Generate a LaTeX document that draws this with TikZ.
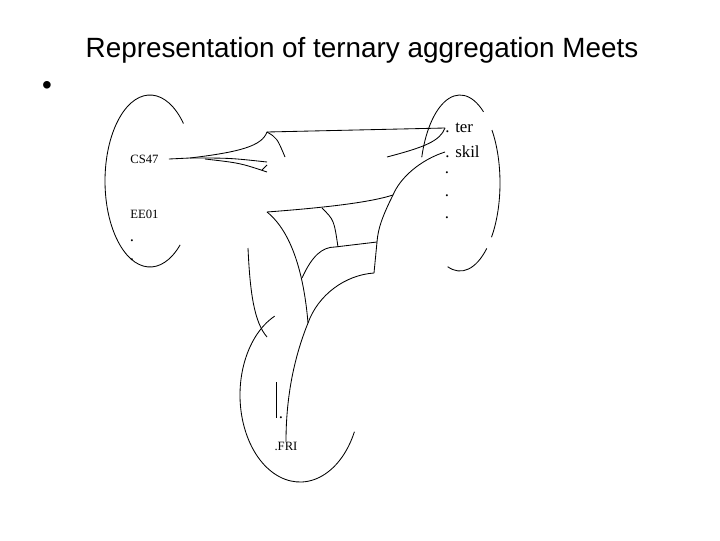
\documentclass[tikz,border=0pt]{standalone}
\usepackage{fontspec}
\setmainfont{Liberation Sans}
\newfontfamily\lblfont{Liberation Serif}
\usetikzlibrary{positioning}

\begin{document}
\begin{tikzpicture}[x=0.025cm, y=-0.025cm, line width=0.6pt,
  lbl/.style={font=\lblfont\fontsize{9}{10}\selectfont, inner sep=0pt},
  tag/.style={font=\lblfont\fontsize{12}{13}\selectfont, inner sep=0pt, anchor=west},
  dotmark/.style={font=\lblfont\fontsize{12}{13}\selectfont, inner sep=0pt}]
  \useasboundingbox (0,0) rectangle (720,540);
  \node[font=\fontsize{19.8}{24}\selectfont, anchor=base] (title) at (362,57) {Representation of ternary aggregation Meets};
  \node[font=\fontsize{19.8}{24}\selectfont] (bullet) at (47,88) {•};

  \node[lbl, anchor=west] (cs47) at (130,159) {CS47};
  \node[lbl, anchor=west] (ee01) at (130,214) {EE01};
  \node[dotmark] (ldot1) at (132,241) {.};
  \node[dotmark] (ldot2) at (132,260) {.};
  \node[tag] (ter) at (445,128) {. ter};
  \node[tag] (skil) at (445,152) {. skil};
  \foreach \y in {173,196,218}
    \node[dotmark] (rdot\y) at (447,\y) {.};
  \node[lbl] (fri) at (286,446) {.FRI};
  \node[dotmark] (fridot) at (281,418) {.};

  \draw (150,181) ++(-42:45 and 86) arc[start angle=-42, end angle=-312, x radius=45, y radius=86];
  \draw (460,183) ++(-54:40 and 88) arc[start angle=-54, end angle=-163, x radius=40, y radius=88];
  \draw (460,183) ++(38:40 and 88) arc[start angle=38, end angle=-37, x radius=40, y radius=88];
  \draw (460,183) ++(-252:40 and 88) arc[start angle=-252, end angle=-312, x radius=40, y radius=88];
  \draw (300,395) ++(-115:60 and 87) arc[start angle=-115, end angle=-335, x radius=60, y radius=87];
  \draw (248,248) .. controls (250,292) and (254,322) .. (267,337);

  \coordinate (fan) at (190,158);
  \coordinate (cusp) at (267,132);
  \coordinate (webtl) at (267,212);
  \coordinate (webtr) at (393,195);
  \coordinate (webbr) at (374,273);
  \coordinate (webml) at (302,278);
  \coordinate (webmid) at (335,247);
  \coordinate (webmr) at (377,242);
  \coordinate (neck) at (308,323);

  \draw ([xshift=7pt]cs47.east) -- (fan);
  \draw (fan) .. controls (240,152) and (262,146) .. (cusp) -- (ter.west);
  \draw (cusp) .. controls (277,138) .. (285,157);
  \draw (fan) .. controls (230,158) .. (267,162);
  \draw (205,159) .. controls (240,163) .. (267,172);
  \draw (262,170) -- (267,165);
  \draw (ter.west) .. controls (440,141) and (425,147) .. (387,157);
  \draw (skil.west) .. controls (420,160) and (400,178) .. (webtr);
  \draw (webtr) .. controls (383,215) and (378,228) .. (webmr) -- (webbr);
  \draw (webtl) .. controls (320,208) and (368,203) .. (webtr);
  \draw (webtl) .. controls (292,232) and (304,275) .. (neck);
  \draw (322,208) .. controls (334,220) .. (338,247);
  \draw (webml) .. controls (312,256) and (322,247) .. (webmid) -- (webmr);
  \draw (webbr) .. controls (345,275) and (318,295) .. (neck);
  \draw (neck) .. controls (293,360) and (286,400) .. (fri.north);
  \draw (276,382) -- (276,418);
\end{tikzpicture}
\end{document}
